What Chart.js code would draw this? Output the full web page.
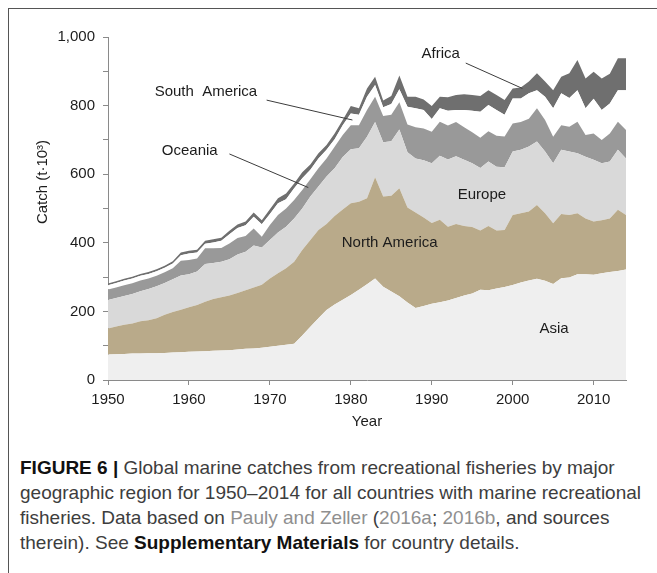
<!DOCTYPE html>
<html>
<head>
<meta charset="utf-8">
<script src="https://cdn.jsdelivr.net/npm/chart.js@4/dist/chart.umd.min.js"></script>
<style>
  html, body { margin: 0; padding: 0; background: #fff; }
  body { width: 657px; height: 573px; position: relative; overflow: hidden;
         font-family: "Liberation Sans", Arial, sans-serif; }
  #frame { position: absolute; left: 8px; top: 8px; right: 0; bottom: 0;
           border-left: 1px solid #555; border-top: 1px solid #555; }
  #plot { position: absolute; left: 0; top: 0; width: 657px; height: 440px; }
  #caption { position: absolute; left: 20px; top: 455px; white-space: nowrap;
             font-size: 19px; line-height: 25px; color: #3d3d3d; }
  #caption b { color: #111; }
  #caption .ref { color: #8f8f8f; }
</style>
</head>
<body>
<div id="frame"></div>
<div id="plot"><canvas id="chart" width="657" height="440"></canvas></div>
<div id="caption"><b>FIGURE 6 |</b> Global marine catches from recreational fisheries by major<br>geographic region for 1950–2014 for all countries with marine recreational<br>fisheries. Data based on <span class="ref">Pauly and Zeller</span> (<span class="ref">2016a</span>; <span class="ref">2016b</span>, and sources<br>therein). See <b>Supplementary Materials</b> for country details.</div>
<script>
// Years of the series (x categories)
const years = [
  1950,1951,1952,1953,1954,1955,1956,1957,1958,1959,
  1960,1961,1962,1963,1964,1965,1966,1967,1968,1969,
  1970,1971,1972,1973,1974,1975,1976,1977,1978,1979,
  1980,1981,1982,1983,1984,1985,1986,1987,1988,1989,
  1990,1991,1992,1993,1994,1995,1996,1997,1998,1999,
  2000,2001,2002,2003,2004,2005,2006,2007,2008,2009,
  2010,2011,2012,2013,2014
];

// Recreational marine catch by region, thousand tonnes
const asia = [
  74,75,76,77,77,78,78,79,80,81,
  82,83,84,85,86,87,89,91,92,94,
  97,100,103,106,130,155,180,204,220,234,
  248,263,279,296,272,258,244,226,210,216,
  222,227,232,239,246,252,263,262,267,271,
  277,284,290,295,289,280,297,299,308,308,
  307,311,315,318,322
];
const northAmerica = [
  76,81,85,88,94,96,102,111,118,124,
  130,136,144,151,155,159,165,171,178,184,
  199,211,223,239,249,253,257,251,258,263,
  267,257,251,295,263,279,315,277,278,258,
  236,240,215,216,203,194,173,187,169,166,
  204,202,201,215,197,177,187,182,178,163,
  155,155,156,178,159
];
const europe = [
  83,83,84,86,88,91,93,93,96,100,
  96,97,110,105,104,106,112,112,122,108,
  112,119,121,126,121,127,127,138,139,153,
  158,156,179,161,158,159,171,161,158,167,
  174,187,196,197,193,186,182,188,186,183,
  185,185,190,185,180,175,187,185,175,180,
  180,166,166,175,165
];
const oceania = [
  31,31,31,31,31,31,31,31,32,43,
  42,38,46,43,40,46,48,46,50,32,
  44,51,53,54,54,50,53,53,63,64,
  70,67,78,74,77,77,80,81,91,92,
  92,99,99,100,95,90,88,88,90,90,
  82,81,81,97,92,77,72,72,92,63,
  77,68,82,82,83
];
const southAmerica = [
  12,13,14,14,14,13,13,13,14,16,
  19,18,13,17,21,27,29,31,34,36,
  32,34,27,34,34,28,29,25,22,29,
  34,30,39,34,25,32,38,52,55,54,
  37,39,43,35,50,63,76,77,75,63,
  73,69,74,53,68,83,93,84,92,78,
  101,87,87,92,116
];
const africa = [
  5,5,5,5,5,6,6,6,6,8,
  8,8,9,9,9,10,10,11,12,12,
  14,15,17,14,18,15,15,14,17,15,
  22,19,24,24,20,23,40,29,34,31,
  38,34,39,44,46,46,46,43,44,43,
  29,32,34,49,44,53,48,72,88,87,
  79,92,87,93,93
];

const regions = ['Asia', 'North America', 'Europe', 'Oceania', 'South America', 'Africa'];
const regionValues = [asia, northAmerica, europe, oceania, southAmerica, africa];
const regionColors = ['#efefef', '#b9aa8a', '#d9d9d9', '#999999', '#ffffff', '#6f6f6f'];

const yTicks = [0, 200, 400, 600, 800, 1000];

// Labels written inside the plot, placed in data units (year, catch)
const areaLabels = [
  { text: 'Africa',         year: 1991.1, value: 950 },
  { text: 'South  America', year: 1962.1, value: 840 },
  { text: 'Oceania',        year: 1960.1, value: 668 },
  { text: 'Europe',         year: 1996.2, value: 539 },
  { text: 'North America',  year: 1984.8, value: 399 },
  { text: 'Asia',           year: 2005.1, value: 149 }
];
// Leader lines from a label to its band
const leaders = [
  { from: [1994.2, 924], to: [2001.2, 850] },
  { from: [1969.6, 816], to: [1980.2, 758] },
  { from: [1965.0, 659], to: [1974.75, 561] }
];

const FONT = '"Liberation Sans", Arial, sans-serif';
const TEXT = '#1c1c1c';
const AXIS = '#8a8a8a';

const labelPlugin = {
  id: 'areaLabels',
  afterDraw(chart) {
    const { ctx, scales: { x, y } } = chart;
    ctx.save();
    ctx.strokeStyle = '#3c3c3c';
    ctx.lineWidth = 1;
    leaders.forEach(l => {
      ctx.beginPath();
      ctx.moveTo(x.getPixelForValue(l.from[0]), y.getPixelForValue(l.from[1]));
      ctx.lineTo(x.getPixelForValue(l.to[0]), y.getPixelForValue(l.to[1]));
      ctx.stroke();
    });
    ctx.fillStyle = TEXT;
    ctx.font = '15px ' + FONT;
    ctx.textAlign = 'center';
    ctx.textBaseline = 'middle';
    areaLabels.forEach(l => {
      ctx.fillText(l.text, x.getPixelForValue(l.year), y.getPixelForValue(l.value));
    });
    // vertical axis title
    ctx.translate(43, 182);
    ctx.rotate(-Math.PI / 2);
    ctx.fillText('Catch (t\u00b710\u00b3)', 0, 0);
    ctx.restore();
  }
};

new Chart(document.getElementById('chart'), {
  type: 'line',
  data: {
    datasets: regions.map((name, i) => ({
      label: name,
      data: years.map((yr, j) => ({ x: yr, y: regionValues[i][j] })),
      backgroundColor: regionColors[i],
      borderWidth: 0,
      pointRadius: 0,
      tension: 0,
      fill: i === 0 ? 'origin' : '-1'
    }))
  },
  options: {
    responsive: false,
    animation: false,
    layout: { padding: { left: 0, right: 31, top: 37, bottom: 9 } },
    plugins: { legend: { display: false }, tooltip: { enabled: false } },
    scales: {
      x: {
        type: 'linear',
        min: 1950, max: 2014,
        afterFit(s) { s.height = 51; },
        ticks: { stepSize: 10, includeBounds: false, padding: 6,
                 color: TEXT, font: { family: FONT, size: 15 },
                 callback: v => String(v) },
        grid: { drawOnChartArea: false, tickLength: 5, color: AXIS },
        border: { color: AXIS, width: 1 },
        title: { display: true, text: 'Year', color: TEXT, padding: 0,
                 font: { family: FONT, size: 15 } }
      },
      y: {
        stacked: true,
        min: 0, max: 1000,
        afterFit(s) { s.width = 108; },
        ticks: { stepSize: 100, padding: 8, color: TEXT,
                 font: { family: FONT, size: 15 },
                 callback: v => yTicks.includes(v) ? v.toLocaleString('en-US') : '' },
        grid: { drawOnChartArea: false, tickLength: 5, color: AXIS },
        border: { color: AXIS, width: 1 }
      }
    }
  },
  plugins: [labelPlugin]
});
</script>
</body>
</html>
